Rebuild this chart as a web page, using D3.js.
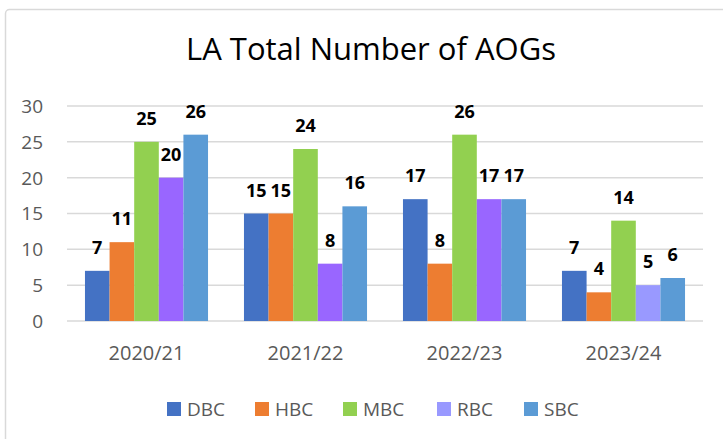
<!DOCTYPE html>
<html>
<head>
<meta charset="utf-8">
<script src="https://cdn.jsdelivr.net/npm/d3@7"></script>
<style>
  body { margin: 0; background: #fff; }
  text { font-family: "Open Sans", "Liberation Sans", Arial, sans-serif; }
</style>
</head>
<body>
<script>
var width = 723, height = 439;

var years = ["2020/21", "2021/22", "2022/23", "2023/24"];
var series = ["DBC", "HBC", "MBC", "RBC", "SBC"];
var DBC = [7, 15, 17, 7];
var HBC = [11, 15, 8, 4];
var MBC = [25, 24, 26, 14];
var RBC = [20, 8, 17, 5];
var SBC = [26, 16, 17, 6];
var yTicks = [0, 5, 10, 15, 20, 25, 30];

var values = {DBC: DBC, HBC: HBC, MBC: MBC, RBC: RBC, SBC: SBC};
var colors = {DBC: "#4472c4", HBC: "#ed7d31", MBC: "#92d050", RBC: "#9999ff", SBC: "#5b9bd5"};
// the first three RBC bars are a deeper purple than the legend swatch
var rbcBarColors = ["#9966ff", "#9966ff", "#9966ff", "#9999ff"];

var svg = d3.select("body").append("svg")
    .attr("width", width)
    .attr("height", height);

svg.append("rect")
    .attr("x", 5.5).attr("y", 9.5)
    .attr("width", 740).attr("height", 450)
    .attr("rx", 4)
    .attr("fill", "#fff")
    .attr("stroke", "#d9d9d9")
    .attr("stroke-width", 1.5);

svg.append("text")
    .attr("x", 371).attr("y", 60)
    .attr("text-anchor", "middle")
    .attr("font-size", 31)
    .attr("fill", "#000")
    .text("LA Total Number of AOGs");

var x0 = d3.scaleBand()
    .domain(years)
    .range([67, 703])
    .paddingInner(0.226)
    .paddingOuter(0.113);

var x1 = d3.scaleBand()
    .domain(series)
    .range([0, x0.bandwidth()]);

var y = d3.scaleLinear()
    .domain([0, 30])
    .range([321, 106]);

// gridlines
svg.append("g").selectAll("line")
    .data(yTicks)
  .enter().append("line")
    .attr("x1", 67).attr("x2", 703)
    .attr("y1", function(d) { return y(d); })
    .attr("y2", function(d) { return y(d); })
    .attr("stroke", "#d9d9d9")
    .attr("stroke-width", 1.5);

svg.append("g").selectAll("text")
    .data(yTicks)
  .enter().append("text")
    .attr("x", 43)
    .attr("y", function(d) { return y(d); })
    .attr("dy", "0.36em")
    .attr("text-anchor", "end")
    .attr("font-size", 19)
    .attr("fill", "#595959")
    .text(function(d) { return d; });

var groups = svg.append("g").selectAll("g")
    .data(years)
  .enter().append("g")
    .attr("transform", function(d) { return "translate(" + x0(d) + ",0)"; });

groups.each(function(yr, i) {
  var g = d3.select(this);
  series.forEach(function(s) {
    var v = values[s][i];
    g.append("rect")
        .attr("x", x1(s))
        .attr("y", y(v))
        .attr("width", x1.bandwidth())
        .attr("height", y(0) - y(v))
        .attr("fill", s === "RBC" ? rbcBarColors[i] : colors[s]);
    g.append("text")
        .attr("x", x1(s) + x1.bandwidth() / 2)
        .attr("y", y(v) - 17)
        .attr("text-anchor", "middle")
        .attr("font-size", 18)
        .attr("font-weight", "bold")
        .attr("fill", "#000")
        .text(v);
  });
});

svg.append("g").selectAll("text")
    .data(years)
  .enter().append("text")
    .attr("x", function(d) { return x0(d) + x0.bandwidth() / 2; })
    .attr("y", 360)
    .attr("text-anchor", "middle")
    .attr("font-size", 20)
    .attr("fill", "#595959")
    .text(function(d) { return d; });

var legendX = [167, 255, 343, 437, 524];
var legend = svg.append("g").selectAll("g")
    .data(series)
  .enter().append("g")
    .attr("transform", function(d, i) { return "translate(" + legendX[i] + ",402)"; });

legend.append("rect")
    .attr("width", 14).attr("height", 14)
    .attr("fill", function(d) { return colors[d]; });

legend.append("text")
    .attr("x", 20).attr("y", 14)
    .attr("font-size", 19)
    .attr("fill", "#595959")
    .text(function(d) { return d; });
</script>
</body>
</html>
